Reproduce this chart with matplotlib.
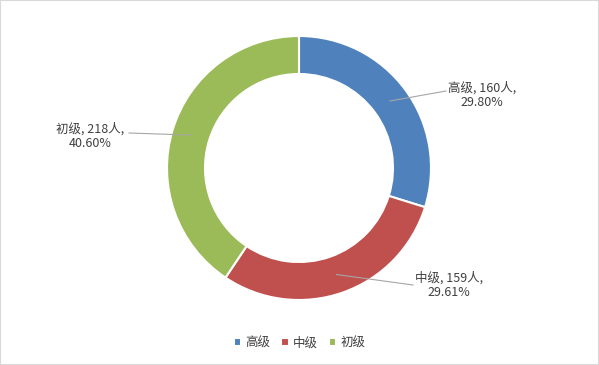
import numpy as np
import matplotlib.pyplot as plt
from matplotlib.patches import Rectangle

plt.rcParams['font.family'] = ['Noto Sans CJK SC', 'DejaVu Sans']

levels = ['高级', '中级', '初级']
counts = [160, 159, 218]
percents = ['29.80%', '29.61%', '40.60%']
colors = ['#4F81BD', '#C0504D', '#9BBB59']

fig = plt.figure(figsize=(5.99, 3.65), dpi=100)
ax = fig.add_axes([0, 0, 1, 1])
ax.set_xlim(0, 599)
ax.set_ylim(0, 365)
ax.set_aspect('equal')
ax.axis('off')

cx, cy, r_out, r_in = 299, 197, 132, 94
wedges, _ = ax.pie(counts, colors=colors, startangle=90, counterclock=False,
                   center=(cx, cy), radius=r_out, frame=True,
                   wedgeprops=dict(width=r_out - r_in, edgecolor='white', linewidth=1.5))
ax.set_xlim(0, 599)
ax.set_ylim(0, 365)
ax.axis('off')

# label positions (text anchor) for each slice
text_pos = [(482, 270), (449, 80), (90, 229)]
line_end = [(446, 274), (413, 80), (129, 232)]
r_mid = (r_out + r_in) / 2
for w, name, n, pct, tp, le in zip(wedges, levels, counts, percents, text_pos, line_end):
    ang = np.deg2rad((w.theta1 + w.theta2) / 2)
    x0 = cx + r_mid * np.cos(ang)
    y0 = cy + r_mid * np.sin(ang)
    ax.plot([x0, le[0]], [y0, le[1]], color='#A6A6A6', linewidth=0.8)
    ax.text(tp[0], tp[1], f'{name}, {n}人,\n{pct}', ha='center', va='center',
            fontsize=9, color='#404040', linespacing=1.2)

leg = ax.legend(wedges, levels, loc='center', bbox_to_anchor=(0.5, 0.06),
                ncol=3, frameon=False, fontsize=9, handlelength=0.6, handleheight=0.6,
                handletextpad=0.3, columnspacing=0.9)
for t in leg.get_texts():
    t.set_color('#404040')

fig.patches.append(Rectangle((0, 0), 1, 1, transform=fig.transFigure, fill=False,
                             edgecolor='#D9D9D9', linewidth=1.5))

fig.savefig('out.png', dpi=100)
